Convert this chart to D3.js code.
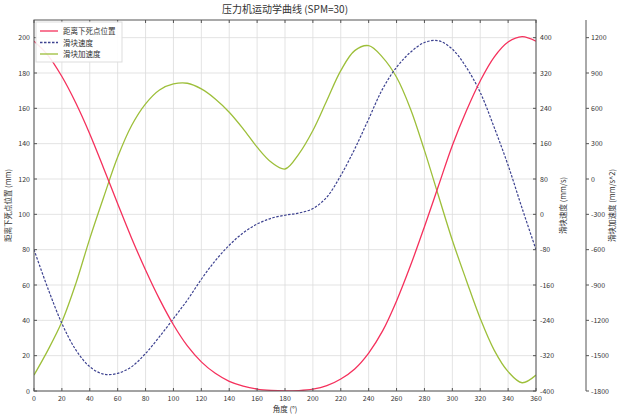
<!DOCTYPE html>
<html><head><meta charset="utf-8">
<script src="https://cdn.jsdelivr.net/npm/d3@7"></script>
<style>
html,body{margin:0;padding:0;background:#fff;}
svg text{font-family:"Noto Sans CJK SC","DejaVu Sans",sans-serif;fill:#333;}
</style></head>
<body>
<svg id="chart" width="620" height="415"></svg>
<script>
const title = "压力机运动学曲线 (SPM=30)";
const xLabel = "角度 (°)";
const yLabelLeft = "距离下死点位置 (mm)";
const yLabelVel = "滑块速度 (mm/s)";
const yLabelAcc = "滑块加速度 (mm/s^2)";
const seriesNames = ["距离下死点位置", "滑块速度", "滑块加速度"];

const angles = [0,10,20,30,40,50,60,70,80,90,100,110,120,130,140,150,160,170,180,190,200,210,220,230,240,250,260,270,280,290,300,310,320,330,340,350,360];
const position = [198,190,178,163,145.5,126,106,86.5,68.5,52,37.5,25.5,16.5,10,5.5,2.8,1.1,0.3,0,0.2,1.0,3.0,6.8,12.5,21.5,34,51,71,93,116,139,158.5,175.5,189,197.5,200.6,198];
const velocity = [-80,-168,-247,-307,-345,-362,-360,-345,-315,-277,-236,-194,-147,-105,-70,-42,-22,-9,-2,3,13,39,88,148,216,284,333,367,389,393,374,333,276,197,111,14,-80];
const acceleration = [-1665,-1453,-1213,-888,-506,-153,186,454,638,756,807,813,765,680,567,426,270,144,85,214,412,666,920,1090,1132,1033,864,595,243,-140,-520,-859,-1184,-1453,-1636,-1730,-1665];

const xTicks = d3.range(0, 361, 20);
const yTicksLeft = d3.range(0, 201, 20);
const yTicksVel = d3.range(-400, 401, 80);
const yTicksAcc = d3.range(-1800, 1201, 300);

const colors = ["#f5305c", "#3d4290", "#9dbf3a"];

const L = 34, R = 536, T = 20, B = 391, AX3 = 586;
const svg = d3.select("#chart");

const x = d3.scaleLinear().domain([0, 360]).range([L, R]);
const yP = d3.scaleLinear().domain([0, 210]).range([B, T]);
const yV = d3.scaleLinear().domain([-400, 440]).range([B, T]);
const yA = d3.scaleLinear().domain([-1800, 1350]).range([B, T]);

// grid
const g = svg.append("g");
g.selectAll(".vg").data(xTicks).enter().append("line")
  .attr("x1", d => x(d)).attr("x2", d => x(d)).attr("y1", T).attr("y2", B)
  .attr("stroke", "#dcdcdc").attr("stroke-width", 0.8);
g.selectAll(".hg").data(yTicksLeft).enter().append("line")
  .attr("x1", L).attr("x2", R).attr("y1", d => yP(d)).attr("y2", d => yP(d))
  .attr("stroke", "#dcdcdc").attr("stroke-width", 0.8);

// curves
const data = angles.map((a, i) => ({a, p: position[i], v: velocity[i], c: acceleration[i]}));
const curve = d3.curveCatmullRom.alpha(0.5);
svg.append("clipPath").attr("id", "clip").append("rect")
  .attr("x", L).attr("y", T).attr("width", R - L).attr("height", B - T);
const plot = svg.append("g").attr("clip-path", "url(#clip)");
plot.append("path").datum(data)
  .attr("d", d3.line().x(d => x(d.a)).y(d => yA(d.c)).curve(curve))
  .attr("fill", "none").attr("stroke", colors[2]).attr("stroke-width", 1.3);
plot.append("path").datum(data)
  .attr("d", d3.line().x(d => x(d.a)).y(d => yV(d.v)).curve(curve))
  .attr("fill", "none").attr("stroke", colors[1]).attr("stroke-width", 1.2)
  .attr("stroke-dasharray", "2.5,1.5");
plot.append("path").datum(data)
  .attr("d", d3.line().x(d => x(d.a)).y(d => yP(d.p)).curve(curve))
  .attr("fill", "none").attr("stroke", colors[0]).attr("stroke-width", 1.3);

// frame
svg.append("rect").attr("x", L).attr("y", T).attr("width", R - L).attr("height", B - T)
  .attr("fill", "none").attr("stroke", "#555").attr("stroke-width", 1);

const fs = 7;
const xa = svg.append("g");
xTicks.forEach(t => {
  xa.append("line").attr("x1", x(t)).attr("x2", x(t)).attr("y1", B).attr("y2", B - 3).attr("stroke", "#555");
  xa.append("line").attr("x1", x(t)).attr("x2", x(t)).attr("y1", T).attr("y2", T + 3).attr("stroke", "#555");
  xa.append("text").attr("x", x(t)).attr("y", B + 10).attr("text-anchor", "middle")
    .attr("font-size", fs).text(t);
});
yTicksLeft.forEach(t => {
  xa.append("line").attr("x1", L).attr("x2", L + 3).attr("y1", yP(t)).attr("y2", yP(t)).attr("stroke", "#555");
  xa.append("text").attr("x", L - 4).attr("y", yP(t) + 2.5).attr("text-anchor", "end")
    .attr("font-size", fs).text(t);
});
yTicksVel.forEach(t => {
  xa.append("line").attr("x1", R).attr("x2", R - 3).attr("y1", yV(t)).attr("y2", yV(t)).attr("stroke", "#555");
  xa.append("text").attr("x", R + 4).attr("y", yV(t) + 2.5).attr("text-anchor", "start")
    .attr("font-size", fs).text(t);
});
xa.append("line").attr("x1", AX3).attr("x2", AX3).attr("y1", T).attr("y2", B).attr("stroke", "#555");
yTicksAcc.forEach(t => {
  xa.append("line").attr("x1", AX3).attr("x2", AX3 + 3).attr("y1", yA(t)).attr("y2", yA(t)).attr("stroke", "#555");
  xa.append("text").attr("x", AX3 + 5).attr("y", yA(t) + 2.5).attr("text-anchor", "start")
    .attr("font-size", fs).text(t);
});

const midY = (T + B) / 2;
svg.append("text").attr("x", (L + R) / 2).attr("y", 13).attr("text-anchor", "middle")
  .attr("font-size", 10).text(title);
svg.append("text").attr("x", (L + R) / 2).attr("y", 412).attr("text-anchor", "middle")
  .attr("font-size", 7.5).text(xLabel);
svg.append("text").attr("transform", `translate(11,${midY}) rotate(-90)`).attr("text-anchor", "middle")
  .attr("font-size", 7.5).text(yLabelLeft);
svg.append("text").attr("transform", `translate(566,${midY}) rotate(-90)`).attr("text-anchor", "middle")
  .attr("font-size", 7.5).text(yLabelVel);
svg.append("text").attr("transform", `translate(615,${midY}) rotate(-90)`).attr("text-anchor", "middle")
  .attr("font-size", 7.5).text(yLabelAcc);

const lg = svg.append("g");
lg.append("rect").attr("x", 36).attr("y", 22).attr("width", 86).attr("height", 40)
  .attr("fill", "#fff").attr("fill-opacity", 0.9).attr("stroke", "#ddd");
seriesNames.forEach((n, i) => {
  const yy = 31 + i * 11.5;
  const ln = lg.append("line").attr("x1", 40).attr("x2", 58).attr("y1", yy).attr("y2", yy)
    .attr("stroke", colors[i]).attr("stroke-width", 1.3);
  if (i === 1) ln.attr("stroke-dasharray", "2.5,1.5");
  lg.append("text").attr("x", 63).attr("y", yy + 3).attr("font-size", 7.5).text(n);
});
</script>
</body></html>
